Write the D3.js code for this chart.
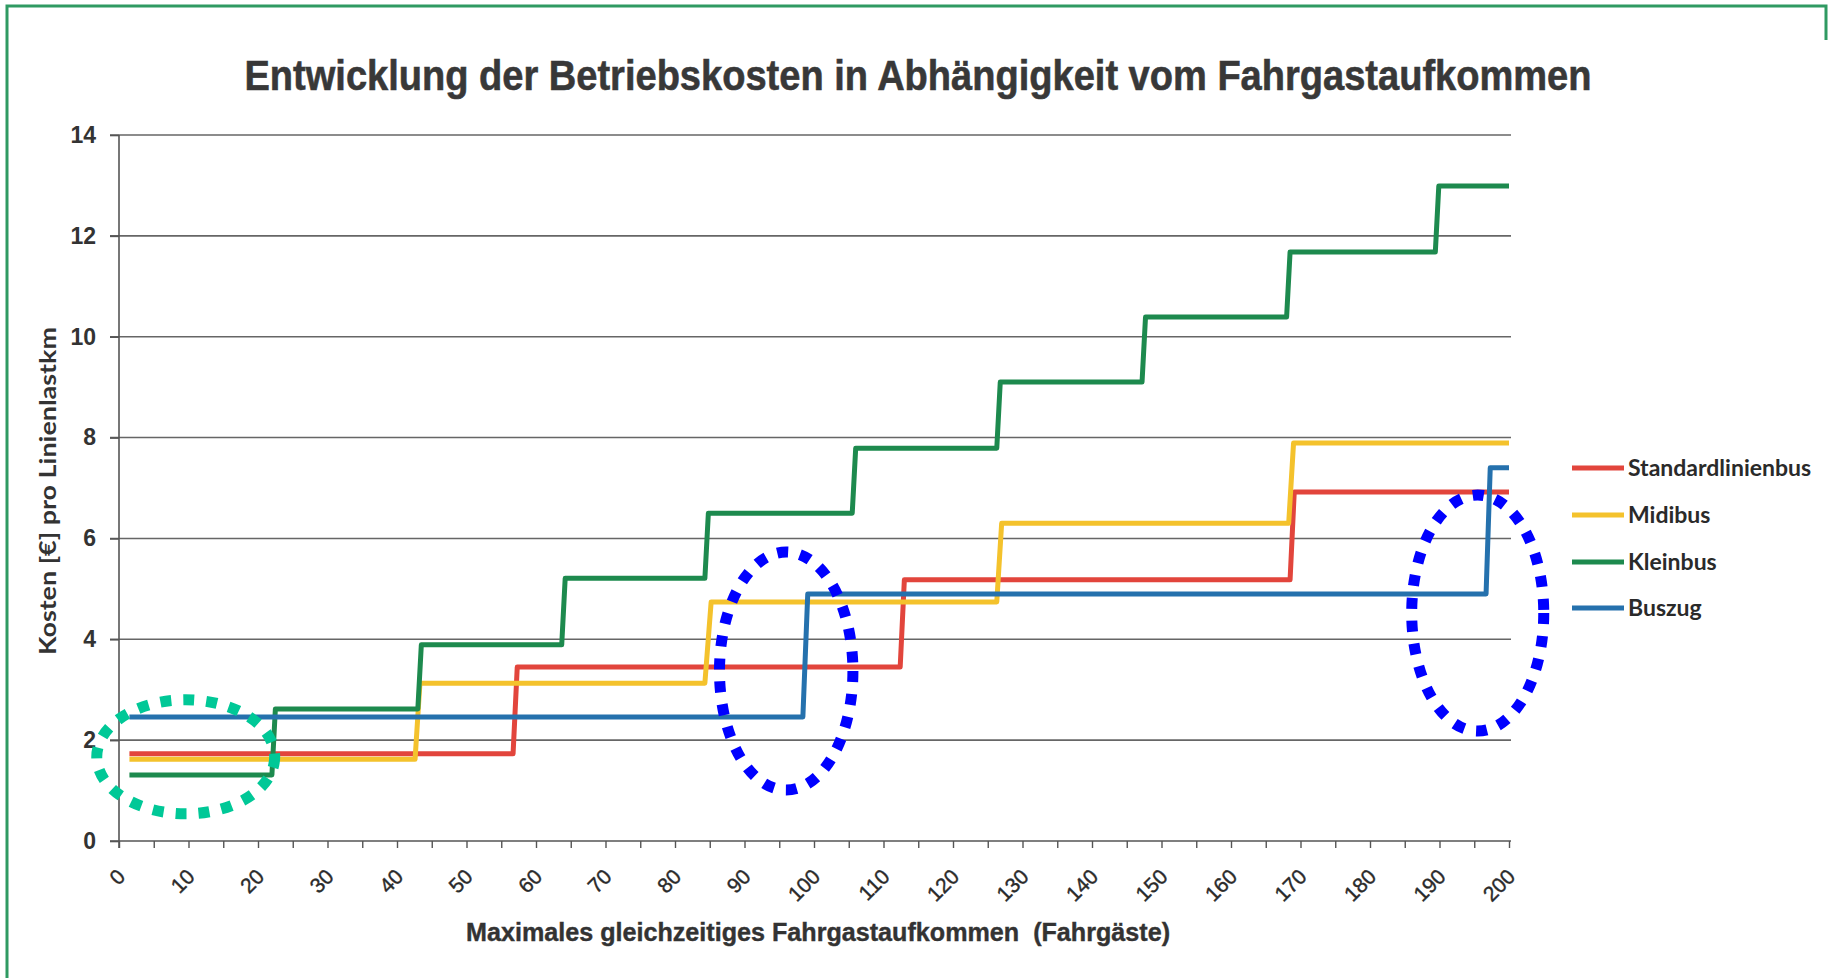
<!DOCTYPE html>
<html>
<head>
<meta charset="utf-8">
<script src="https://cdn.jsdelivr.net/npm/d3@7"></script>
<style>
    body { margin: 0; background: #fff; }
    svg { display: block; }
</style>
</head>
<body>
<div class="chart"></div>
<script>

const width = 1829
const height = 978

const seriesNames = ['Standardlinienbus', 'Midibus', 'Kleinbus', 'Buszug']
const seriesColors = ['#e2453c', '#f4c22c', '#1d8a4e', '#2571ad']

// step lines: [Fahrgäste, Kosten]
const standardlinienbus = [[1.5,1.73],[56.7,1.73],[57.3,3.45],[112.4,3.45],[113,5.18],[168.5,5.18],[169.1,6.92],[200,6.92]]
const midibus = [[1.5,1.62],[42.6,1.62],[43.3,3.13],[84.3,3.13],[85.2,4.74],[126.3,4.74],[127,6.3],[168.3,6.3],[169,7.89],[200,7.89]]
const kleinbus = [[1.5,1.31],[22,1.31],[22.5,2.62],[43,2.62],[43.5,3.89],[63.7,3.89],[64.2,5.21],[84.3,5.21],[84.8,6.5],[105.5,6.5],[106,7.79],[126.3,7.79],[126.8,9.1],[147.2,9.1],[147.7,10.39],[168,10.39],[168.5,11.68],[189.4,11.68],[189.9,12.99],[200,12.99]]
const buszug = [[1.5,2.46],[98.4,2.46],[99.1,4.9],[196.7,4.9],[197.3,7.4],[200,7.4]]

const xTicks = d3.range(0, 201, 5)
const xLabels = d3.range(0, 201, 10)
const yTicks = [0, 2, 4, 6, 8, 10, 12, 14]

// dotted ellipses drawn over the chart, in data units [cx, cy, rx, ry, colour]
const marks = [
    [9.6, 1.67, 12.8, 1.13, '#00c897'],
    [96, 3.37, 9.6, 2.36, '#0000ff'],
    [195.5, 4.52, 9.5, 2.34, '#0000ff']
]

const title = 'Entwicklung der Betriebskosten in Abhängigkeit vom Fahrgastaufkommen'
const xTitle = 'Maximales gleichzeitiges Fahrgastaufkommen  (Fahrgäste)'
const yTitle = 'Kosten [€] pro Linienlastkm'

const svg = d3.select('.chart')
    .append('svg')
        .attr('width', width)
        .attr('height', height)

const x = d3.scaleLinear().domain([0, 200]).range([119, 1509])
const y = d3.scaleLinear().domain([0, 14]).range([841, 135])

// frame of the scan
svg.append('path')
    .attr('d', `M7,${height} V6 H1826 V40`)
    .attr('fill', 'none')
    .attr('stroke', '#2f9a62')
    .attr('stroke-width', 3)

svg.append('text')
    .attr('x', 918)
    .attr('y', 90)
    .attr('text-anchor', 'middle')
    .attr('textLength', 1347)
    .attr('lengthAdjust', 'spacingAndGlyphs')
    .style('font-family', '"Liberation Sans Narrow", "Arial Narrow", "Liberation Sans", sans-serif')
    .style('font-weight', 'bold')
    .style('font-size', '43px')
    .attr('fill', '#383838')
    .attr('stroke', '#383838')
    .attr('stroke-width', 0.6)
    .text(title)

// grid
svg.append('g')
    .selectAll('line')
    .data(yTicks.filter(d => d > 0))
    .join('line')
        .attr('x1', 110)
        .attr('x2', 1511)
        .attr('y1', d => y(d))
        .attr('y2', d => y(d))
        .attr('stroke', '#666')
        .attr('stroke-width', 1.6)

const xAxis = svg.append('g')
    .attr('transform', `translate(0,${y(0)})`)
    .call(d3.axisBottom(x)
        .tickValues(xTicks)
        .tickSize(7)
        .tickSizeOuter(0)
        .tickFormat(d => xLabels.includes(d) ? d : ''))
xAxis.select('.domain')
    .attr('d', `M110,0 H1511`)
    .attr('stroke', '#555')
    .attr('stroke-width', 1.6)
xAxis.selectAll('.tick line').attr('stroke', '#555').attr('stroke-width', 1.4)
xAxis.selectAll('.tick text')
    .attr('x', 0)
    .attr('y', 0)
    .attr('dy', 0)
    .attr('transform', 'translate(7,37) rotate(-45)')
    .attr('text-anchor', 'end')
    .attr('fill', '#2a2a2a')
    .attr('stroke', '#2a2a2a')
    .attr('stroke-width', 0.4)
    .style('font-family', '"Liberation Sans", Arial, sans-serif')
    .style('font-size', '21px')

const yAxis = svg.append('g')
    .attr('transform', `translate(${x(0)},0)`)
    .call(d3.axisLeft(y)
        .tickValues(yTicks)
        .tickSize(9)
        .tickSizeOuter(0)
        .tickPadding(14))
yAxis.select('.domain')
    .attr('d', `M0,${y(14)} V${y(0) + 7}`)
    .attr('stroke', '#555')
    .attr('stroke-width', 1.6)
yAxis.selectAll('.tick line').attr('stroke', '#555').attr('stroke-width', 1.6)
yAxis.selectAll('.tick text')
    .attr('fill', '#333')
    .style('font-family', '"Liberation Sans", Arial, sans-serif')
    .style('font-weight', 'bold')
    .style('font-size', '23px')

svg.append('text')
    .attr('x', 818)
    .attr('y', 941)
    .attr('text-anchor', 'middle')
    .attr('textLength', 704)
    .attr('lengthAdjust', 'spacingAndGlyphs')
    .style('white-space', 'pre')
    .style('font-family', '"Liberation Sans Narrow", "Arial Narrow", "Liberation Sans", sans-serif')
    .style('font-weight', 'bold')
    .style('font-size', '26px')
    .attr('fill', '#333')
    .attr('stroke', '#333')
    .attr('stroke-width', 0.4)
    .text(xTitle)

svg.append('text')
    .attr('transform', 'translate(56,491) rotate(-90)')
    .attr('text-anchor', 'middle')
    .attr('textLength', 328)
    .attr('lengthAdjust', 'spacingAndGlyphs')
    .style('font-family', 'Lato, "Open Sans", sans-serif')
    .style('font-weight', 'bold')
    .style('font-size', '23px')
    .attr('fill', '#333')
    .text(yTitle)

const lineGen = d3.line()
    .x(d => x(d[0]))
    .y(d => y(d[1]))

svg.append('g')
    .selectAll('path')
    .data([standardlinienbus, midibus, kleinbus, buszug])
    .join('path')
        .attr('d', d => lineGen(d))
        .attr('fill', 'none')
        .attr('stroke', (d, i) => seriesColors[i])
        .attr('stroke-width', 5)
        .attr('stroke-linejoin', 'round')

const legend = svg.append('g')
    .selectAll('g')
    .data(seriesNames)
    .join('g')
        .attr('transform', (d, i) => `translate(1572,${[468, 515, 562, 608][i]})`)
legend.append('line')
    .attr('x1', 0)
    .attr('x2', 52)
    .attr('stroke', (d, i) => seriesColors[i])
    .attr('stroke-width', 5)
legend.append('text')
    .attr('x', 56)
    .attr('dy', '0.35em')
    .style('font-family', 'Lato, "Open Sans", sans-serif')
    .style('font-weight', 'bold')
    .style('font-size', '23px')
    .attr('fill', '#2a2a2a')
    .text(d => d)

svg.append('g')
    .selectAll('ellipse')
    .data(marks)
    .join('ellipse')
        .attr('cx', d => x(d[0]))
        .attr('cy', d => y(d[1]))
        .attr('rx', d => x(d[2]) - x(0))
        .attr('ry', d => y(0) - y(d[3]))
        .attr('fill', 'none')
        .attr('stroke', d => d[4])
        .attr('stroke-width', 11)
        .attr('stroke-dasharray', '11 12')

</script>
</body>
</html>
